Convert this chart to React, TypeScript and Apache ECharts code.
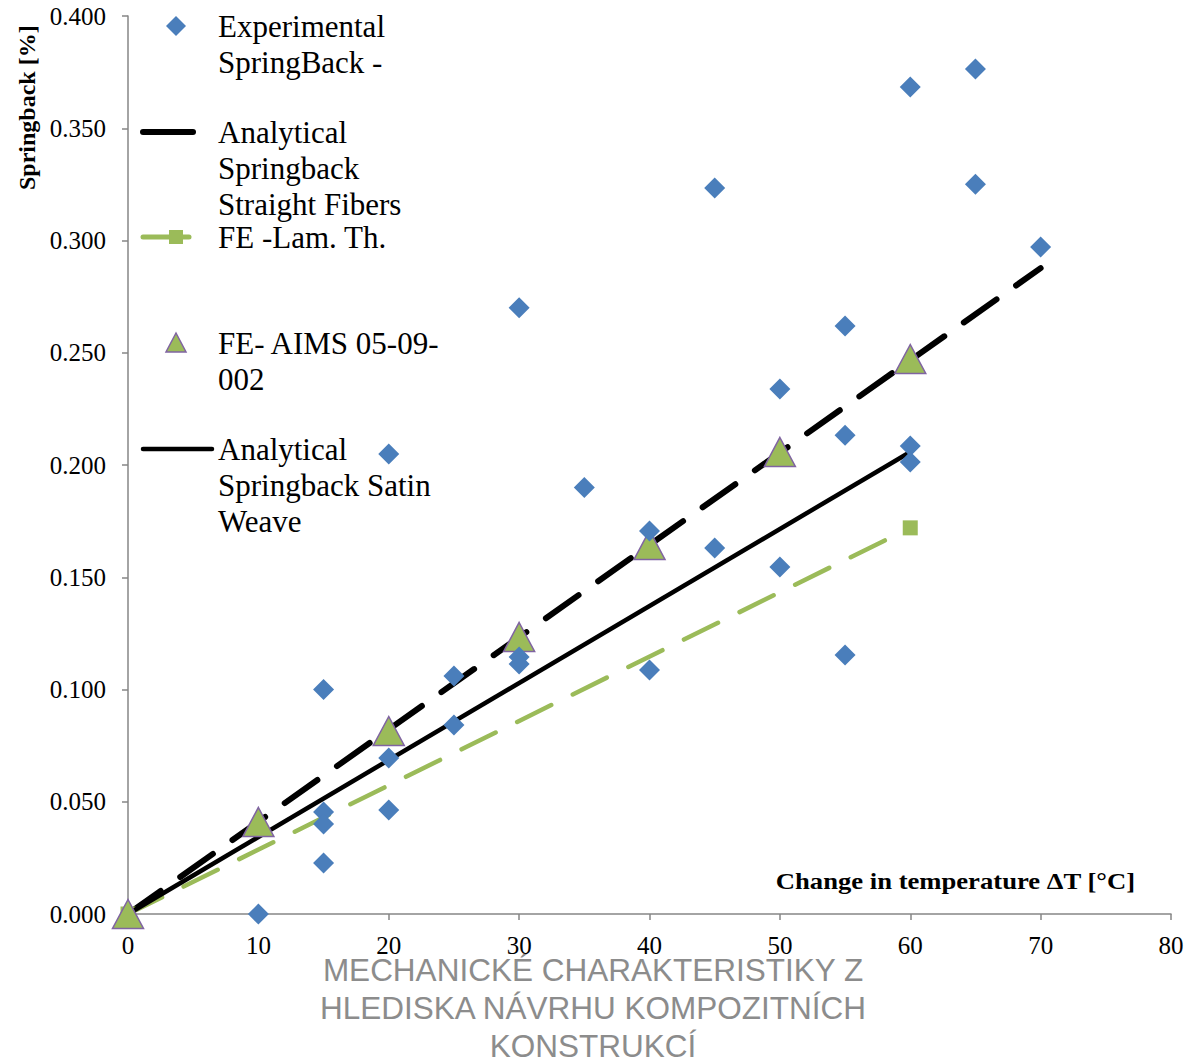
import React, { useEffect, useRef } from "react";
import * as echarts from "echarts";

// ---- data ----
const expX = [10, 15, 15, 15, 15, 20, 20, 20, 25, 25, 30, 30, 30, 35, 40, 40, 45, 45, 50, 50, 55, 55, 55, 60, 60, 60, 65, 65, 70];
const expY = [0.0, 0.1, 0.0454, 0.0401, 0.0227, 0.2049, 0.0695, 0.0463, 0.106, 0.0842, 0.27, 0.1145, 0.1114, 0.19, 0.1706, 0.1087, 0.3234, 0.163, 0.2338, 0.1546, 0.2619, 0.2133, 0.1154, 0.3684, 0.2085, 0.2013, 0.3764, 0.3251, 0.2971];

const straightX = [0, 70];
const straightY = [0, 0.2877];

const lamX = [0, 60];
const lamY = [0, 0.172];

const aimsX = [0, 10, 20, 30, 40, 50, 60];
const aimsY = [0, 0.041, 0.0815, 0.1234, 0.1644, 0.2058, 0.2472];

const satinX = [0, 60];
const satinY = [0, 0.2058];

const seriesNames = [
  "Experimental\nSpringBack -",
  "Analytical\nSpringback\nStraight Fibers",
  "FE -Lam. Th.",
  "FE- AIMS 05-09-\n002",
  "Analytical\nSpringback Satin\nWeave",
];

const xAxisTitle = "Change in temperature \u0394T [\u00B0C]";
const yAxisTitle = "Springback [%]";
const footerLines = ["MECHANICK\u00C9 CHARAKTERISTIKY Z", "HLEDISKA N\u00C1VRHU KOMPOZITN\u00CDCH", "KONSTRUKC\u00CD"];

const BLUE = "#4a7ebb";
const GREEN = "#9bbb59";
const PURPLE = "#8064a2";
const SERIF = "'Liberation Serif', 'Times New Roman', serif";

const pairs = (xs: number[], ys: number[]) => xs.map((x, i) => [x, ys[i]]);

export default function App() {
  const ref = useRef<HTMLDivElement>(null);
  useEffect(() => {
    if (!ref.current) return;
    const chart = echarts.init(ref.current, null, { renderer: "svg" });

    const legendTop = [26, 132, 237, 343, 449];
    const legendGraphics: any[] = [];
    seriesNames.forEach((name, i) => {
      const cy = legendTop[i];
      if (i === 0) {
        legendGraphics.push({
          type: "polygon",
          shape: { points: [[176, cy - 10], [186, cy], [176, cy + 10], [166, cy]] },
          style: { fill: BLUE },
        });
      } else if (i === 1) {
        legendGraphics.push({
          type: "line",
          shape: { x1: 143, y1: cy, x2: 193, y2: cy },
          style: { stroke: "#000", lineWidth: 6, lineCap: "round" },
        });
      } else if (i === 2) {
        legendGraphics.push({
          type: "line",
          shape: { x1: 143, y1: cy, x2: 189, y2: cy },
          style: { stroke: GREEN, lineWidth: 5, lineCap: "round" },
        });
        legendGraphics.push({
          type: "rect",
          shape: { x: 169, y: cy - 7, width: 14, height: 14 },
          style: { fill: GREEN },
        });
      } else if (i === 3) {
        legendGraphics.push({
          type: "polygon",
          shape: { points: [[176, cy - 10], [186, cy + 9], [166, cy + 9]] },
          style: { fill: GREEN, stroke: PURPLE, lineWidth: 1.5 },
        });
      } else {
        legendGraphics.push({
          type: "line",
          shape: { x1: 143, y1: cy, x2: 212, y2: cy },
          style: { stroke: "#000", lineWidth: 4.5, lineCap: "round" },
        });
      }
      legendGraphics.push({
        type: "text",
        x: 218,
        y: cy - 18,
        style: {
          text: name,
          font: `31px ${SERIF}`,
          fill: "#000",
          lineHeight: 36,
          textVerticalAlign: "top",
          textAlign: "left",
        },
      });
    });

    const option: any = {
      animation: false,
      backgroundColor: "#fff",
      grid: { left: 128, right: 16, top: 16, bottom: 148, containLabel: false },
      xAxis: {
        type: "value",
        min: 0,
        max: 80,
        interval: 10,
        axisLine: { show: true, lineStyle: { color: "#868686", width: 1.5 } },
        axisTick: { show: true, length: 6, lineStyle: { color: "#868686", width: 1.5 } },
        splitLine: { show: false },
        axisLabel: { color: "#000", fontFamily: SERIF, fontSize: 25, margin: 19 },
      },
      yAxis: {
        type: "value",
        min: 0,
        max: 0.4,
        interval: 0.05,
        axisLine: { show: true, lineStyle: { color: "#868686", width: 1.5 } },
        axisTick: { show: true, length: 6, lineStyle: { color: "#868686", width: 1.5 } },
        splitLine: { show: false },
        axisLabel: {
          color: "#000",
          fontFamily: SERIF,
          fontSize: 25,
          margin: 22,
          formatter: (v: number) => v.toFixed(3),
        },
      },
      series: [
        {
          name: seriesNames[0],
          type: "scatter",
          data: pairs(expX, expY),
          symbol: "diamond",
          symbolSize: 21,
          itemStyle: { color: BLUE, opacity: 1 },
          z: 5,
        },
        {
          name: seriesNames[1],
          type: "line",
          data: pairs(straightX, straightY),
          symbol: "none",
          lineStyle: { color: "#000", width: 6, type: [40, 24], cap: "round" },
          z: 2,
        },
        {
          name: seriesNames[2],
          type: "line",
          data: pairs(lamX, lamY),
          symbol: "rect",
          symbolSize: 15,
          itemStyle: { color: GREEN, opacity: 1 },
          lineStyle: { color: GREEN, width: 4.5, type: [38, 24], cap: "round" },
          z: 2,
        },
        {
          name: seriesNames[3],
          type: "scatter",
          data: pairs(aimsX, aimsY),
          symbol: "triangle",
          symbolSize: [31, 29],
          itemStyle: { color: GREEN, borderColor: PURPLE, borderWidth: 1.5, opacity: 1 },
          z: 4,
        },
        {
          name: seriesNames[4],
          type: "line",
          data: pairs(satinX, satinY),
          symbol: "none",
          lineStyle: { color: "#000", width: 4.5 },
          z: 3,
        },
      ],
      graphic: [
        ...legendGraphics,
        {
          type: "text",
          x: 27,
          y: 190,
          rotation: Math.PI / 2,
          style: {
            text: yAxisTitle,
            font: `bold 24px ${SERIF}`,
            fill: "#000",
            textAlign: "left",
            textVerticalAlign: "middle",
          },
        },
        {
          type: "text",
          x: 1135,
          y: 880,
          scaleX: 1.11,
          style: {
            text: xAxisTitle,
            font: `bold 24px ${SERIF}`,
            fill: "#000",
            textAlign: "right",
            textVerticalAlign: "middle",
          },
        },
        {
          type: "text",
          x: 593,
          y: 951,
          style: {
            text: footerLines.join("\n"),
            font: `31.5px 'Liberation Sans', Arial, sans-serif`,
            fill: "#8c8c8c",
            lineHeight: 38,
            textAlign: "center",
            textVerticalAlign: "top",
          },
        },
      ],
    };
    chart.setOption(option);
    return () => chart.dispose();
  }, []);
  return (
    <div
      ref={ref}
      style={{ position: "fixed", left: 0, top: 0, width: 1187, height: 1062, background: "#fff" }}
    />
  );
}
